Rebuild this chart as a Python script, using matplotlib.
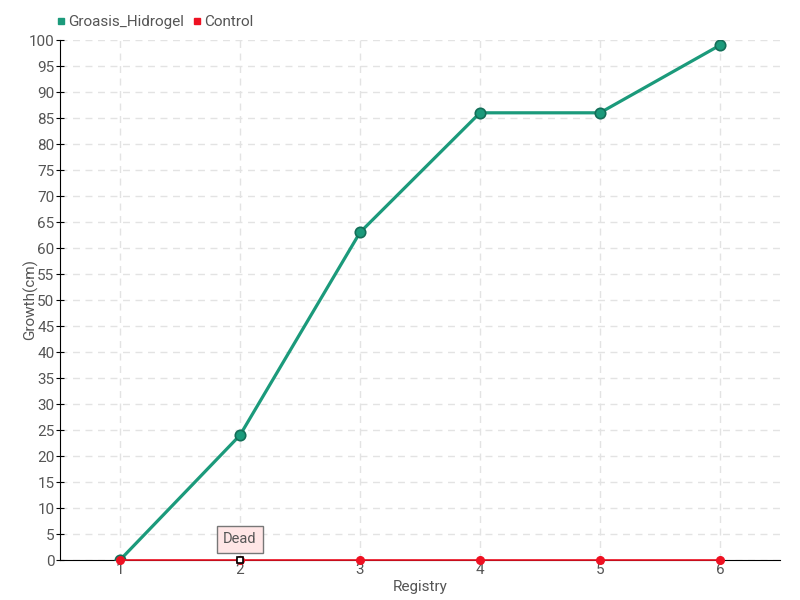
import matplotlib
matplotlib.use("Agg")
import matplotlib.pyplot as plt

registry = [1, 2, 3, 4, 5, 6]
groasis = [0, 24, 63, 86, 86, 99]
control = [0, 0, 0, 0, 0, 0]

plt.rcParams['font.family'] = ['Roboto', 'DejaVu Sans']

fig = plt.figure(figsize=(8, 6), dpi=100)
ax = fig.add_axes([60 / 800, 40 / 600, 720 / 800, 520 / 600])

ax.plot(registry, groasis, color="#1b9a7b", lw=2.3, marker="o", ms=7.5,
        mfc="#1b9a7b", mec="#146e58", mew=1.2, zorder=3, label="Groasis_Hidrogel")
ax.plot(registry, control, color="#ee1122", lw=1.2, marker="o", ms=5.5,
        mfc="#ee1122", mec="#ee1122", zorder=4, clip_on=False, label="Control")

ax.annotate("Dead", xy=(2, 0), xytext=(2, 4), ha="center", va="center",
            fontsize=10.5, color="#555555",
            bbox=dict(boxstyle="square,pad=0.45", fc="#ffe6e6", ec="#777777", lw=1),
            zorder=5)
ax.plot([2], [0], marker="s", ms=5, mfc="white", mec="black", mew=1.2,
        zorder=6, clip_on=False)

ax.set_xlim(0.5, 6.5)
ax.set_ylim(0, 100)
ax.set_xticks(registry)
ax.set_yticks(range(0, 101, 5))
ax.grid(True, color="#e3e3e3", ls=(0, (5, 4)), lw=1)
ax.set_axisbelow(True)
for s in ["top", "right"]:
    ax.spines[s].set_visible(False)
ax.spines["left"].set_color("black")
ax.spines["bottom"].set_color("black")
ax.tick_params(direction="inout", length=6, labelsize=11, labelcolor="#555555", pad=1)
ax.tick_params(axis="x", pad=-1)
ax.set_xlabel("Registry", fontsize=11, color="#555555")
ax.set_ylabel("Growth(cm)", fontsize=11, color="#555555")
ax.xaxis.set_label_coords(0.5, -0.038)
ax.yaxis.set_label_coords(-0.03, 0.5)

ax.legend(loc="lower left", bbox_to_anchor=(-0.02, 1.0), ncol=2, frameon=False,
          fontsize=11, handlelength=0.6, handletextpad=0.2, columnspacing=0.5,
          labelcolor="#555555", borderaxespad=0.3,
          handles=[plt.Line2D([], [], ls="", marker="s", ms=5, color="#1b9a7b"),
                   plt.Line2D([], [], ls="", marker="s", ms=5, color="#ee1122")],
          labels=["Groasis_Hidrogel", "Control"])

fig.savefig("out.png")
